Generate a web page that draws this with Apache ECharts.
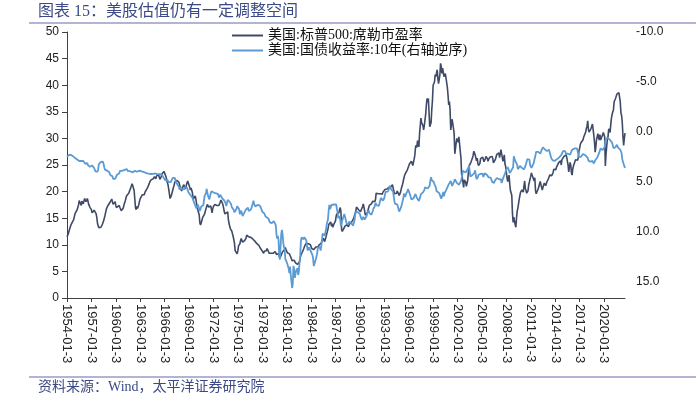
<!DOCTYPE html>
<html><head><meta charset="utf-8">
<script src="https://cdn.jsdelivr.net/npm/echarts@6/dist/echarts.min.js"></script>
<style>html,body{margin:0;padding:0;background:#fff}#c{width:696px;height:397px}</style>
</head><body><div id="c"></div>
<script>
const startYear = 1954;
const titleText = '图表 15：美股估值仍有一定调整空间';
const sourceText = '资料来源：Wind，太平洋证券研究院';
const seriesNames = ['美国:标普500:席勒市盈率', '美国:国债收益率:10年(右轴逆序)'];
const leftAxisRange = [0, 50, 5];
const rightAxisRange = [-10, 16.6, 5];

// Shiller PE, monthly from 1954-01 (one row per year)
const capeValues = [
11.5,11.8,12.1,12.6,13.0,13.2,13.8,13.6,14.0,14.0,14.8,15.4,
15.9,16.2,16.0,16.6,16.5,17.5,18.3,18.2,18.6,17.4,18.2,18.2,
17.7,17.8,18.7,18.7,18.1,17.8,18.7,18.4,17.6,17.4,17.0,17.3,
16.6,16.0,16.1,16.0,16.5,16.6,16.7,15.8,15.1,14.0,13.6,13.2,
13.3,13.1,13.3,13.5,13.8,14.0,14.5,15.0,15.5,16.1,16.7,17.0,
17.3,17.3,17.6,17.9,18.1,18.0,18.6,18.3,17.6,17.6,17.8,18.1,
17.4,17.0,16.9,17.0,17.0,17.4,17.0,16.9,16.4,16.2,16.6,16.9,
17.5,17.9,18.3,18.8,19.2,19.0,19.2,19.7,19.5,19.9,20.7,21.0,
21.5,21.1,21.0,20.2,18.6,17.0,16.6,17.2,16.8,16.5,17.6,18.2,
18.7,18.8,18.7,19.4,19.7,19.7,19.4,19.9,20.2,20.3,20.4,20.8,
21.1,21.4,21.8,22.0,22.2,22.1,22.5,22.4,22.6,22.8,22.8,22.4,
22.9,23.1,23.0,23.2,23.5,22.3,22.2,22.8,23.3,23.6,23.6,23.8,
23.9,23.6,22.8,23.0,21.7,21.3,21.0,19.6,18.7,18.4,19.3,19.4,
20.3,20.8,21.2,21.8,21.5,21.6,22.1,22.0,22.3,21.8,21.3,21.6,
21.0,20.1,19.9,20.9,21.3,21.4,21.1,20.5,21.2,21.6,22.0,21.6,
21.2,20.8,20.3,20.7,21.0,19.8,18.5,18.7,18.8,19.2,18.7,17.8,
17.0,16.7,16.8,15.6,14.1,13.7,13.9,14.6,15.1,15.2,15.0,15.8,
16.3,16.8,17.2,17.6,17.4,17.1,17.1,16.8,17.3,16.7,16.0,16.8,
17.2,17.4,17.6,17.7,17.6,17.4,17.3,17.5,17.4,17.4,18.0,18.4,
18.6,17.9,17.5,16.9,16.2,15.8,16.1,15.6,15.6,16.2,14.8,14.0,
13.5,13.0,13.1,12.6,12.1,11.6,11.0,10.3,8.9,8.7,8.9,8.3,
8.9,9.8,10.0,10.2,10.8,11.2,11.3,10.5,10.4,10.6,10.8,10.6,
11.2,11.8,11.8,11.7,11.5,11.5,11.6,11.4,11.6,11.3,11.1,11.4,
11.0,10.7,10.5,10.4,10.2,10.3,10.2,9.9,9.7,9.4,9.4,9.3,
8.8,8.5,8.4,8.8,9.1,9.0,8.9,9.3,9.3,8.8,8.4,8.5,
8.6,8.4,8.5,8.6,8.4,8.5,8.4,8.7,8.6,8.2,7.9,8.1,
8.3,8.4,7.5,7.6,8.1,8.4,8.7,8.9,9.0,9.1,9.5,9.1,
8.9,8.5,8.7,8.6,8.3,8.1,7.7,7.5,7.0,7.1,7.3,7.1,
6.9,6.6,6.4,6.5,6.3,6.2,6.3,6.8,7.5,8.1,8.4,8.6,
8.9,9.2,9.5,9.9,10.1,10.3,10.2,10.1,10.2,10.1,10.1,10.0,
9.8,9.3,9.3,9.3,9.1,9.1,8.9,9.6,9.7,9.7,9.6,9.6,
10.0,10.3,10.2,10.3,10.7,11.0,11.2,10.9,10.6,10.8,11.5,12.0,
12.3,13.0,13.8,13.9,13.9,14.3,13.5,14.0,13.3,13.6,14.0,13.8,
14.5,15.4,15.8,15.5,15.5,16.0,16.6,17.0,16.3,12.9,12.5,12.7,
13.0,13.3,13.5,13.4,13.3,13.8,13.7,13.4,13.7,14.0,13.7,13.9,
14.3,14.5,14.5,15.0,15.5,15.9,16.4,17.1,17.0,16.8,16.6,16.9,
16.3,16.2,16.6,16.5,17.2,17.7,17.6,16.4,15.6,15.3,15.6,16.0,
16.1,17.0,17.4,17.5,17.6,17.7,17.9,18.2,18.3,18.4,18.1,18.5,
19.7,19.7,19.4,19.6,19.8,19.5,19.6,19.4,19.6,19.5,19.9,20.2,
20.2,20.4,20.6,20.3,20.5,20.4,20.4,20.8,20.8,21.1,20.9,21.0,
21.3,21.0,20.1,19.6,19.8,19.6,19.7,20.1,19.9,19.8,19.3,19.6,
19.9,20.5,21.0,21.4,22.0,22.6,23.1,23.1,23.6,23.5,24.1,24.4,
24.8,25.2,25.3,25.5,25.7,25.9,24.9,25.1,26.1,26.8,28.3,28.7,
28.3,29.6,28.9,28.4,30.9,32.3,33.8,33.0,32.8,32.4,31.6,32.4,
32.3,34.5,36.2,37.5,36.8,37.5,37.6,32.2,32.2,33.0,35.4,37.1,
40.0,40.2,40.6,42.0,41.6,41.7,42.9,41.3,40.3,40.0,42.0,44.1,
43.5,42.2,43.2,43.2,41.6,41.9,42.2,42.5,41.9,39.6,38.1,36.3,
36.9,35.4,31.6,31.3,33.6,32.8,31.9,30.9,27.1,27.2,29.2,30.0,
30.0,29.3,30.3,29.0,27.6,26.4,23.3,22.7,22.6,20.8,22.2,22.3,
21.8,21.0,21.3,22.1,23.6,24.8,24.8,25.1,25.6,25.8,26.3,26.8,
27.6,27.9,26.9,27.1,25.8,26.3,25.3,24.9,25.2,25.3,26.2,26.5,
26.4,26.5,26.3,25.6,25.8,26.2,26.6,26.5,26.2,25.7,26.1,26.3,
26.5,26.3,26.4,26.6,26.2,25.4,25.4,25.7,26.1,26.6,27.0,27.2,
27.2,27.3,26.4,27.1,27.9,27.7,27.6,25.7,26.3,26.9,25.2,24.7,
23.6,22.6,21.9,22.6,23.1,21.4,20.2,20.4,19.3,15.9,14.2,15.2,
15.2,13.8,13.3,15.0,16.3,16.9,17.1,18.6,19.3,19.9,19.9,20.3,
20.3,19.9,21.1,22.0,20.6,20.2,19.7,20.0,20.2,21.3,21.8,22.1,
22.9,23.5,23.1,23.3,23.0,22.0,22.6,20.2,19.6,19.9,20.2,20.2,
20.9,21.5,21.9,21.8,20.8,20.3,20.8,21.1,21.6,21.7,21.1,21.2,
21.9,22.2,22.4,22.5,23.1,22.8,23.1,23.0,23.1,23.6,24.2,24.4,
24.3,24.1,24.6,24.4,24.8,25.4,25.4,25.4,25.8,25.0,26.0,26.2,
26.0,26.6,26.7,26.7,26.9,26.5,26.3,25.0,23.7,24.6,25.5,25.0,
23.5,23.1,24.3,24.8,25.1,25.1,26.0,26.3,26.1,25.9,26.3,27.6,
28.1,28.8,29.2,29.1,29.4,29.7,30.2,30.1,30.5,31.2,31.9,32.3,
33.3,31.7,31.2,31.0,31.4,31.9,32.1,32.7,32.6,30.6,29.3,27.4,
28.4,29.8,30.0,30.9,30.1,29.7,30.7,29.7,29.9,29.7,30.7,31.1,
31.2,30.3,24.8,27.0,28.5,29.8,30.4,31.8,31.5,31.1,32.6,33.8,
34.5,35.0,35.4,36.9,37.0,37.5,37.9,38.3,38.0,38.1,38.6,38.3,
36.9,34.8,34.3,32.9,30.4,28.7,30.0,31.0
];

// US 10Y Treasury yield (%), monthly from 1954-01
const yieldValues = [
2.48,2.47,2.37,2.29,2.37,2.38,2.30,2.36,2.38,2.43,2.48,2.51,
2.61,2.65,2.68,2.75,2.76,2.78,2.90,2.97,2.97,2.88,2.89,2.96,
2.90,2.84,2.96,3.18,3.07,3.00,3.11,3.33,3.38,3.34,3.49,3.59,
3.46,3.34,3.41,3.48,3.60,3.80,3.93,3.93,3.92,3.97,3.72,3.21,
3.09,3.05,2.98,2.88,2.92,2.97,3.20,3.54,3.76,3.80,3.74,3.86,
4.02,3.96,3.99,4.12,4.31,4.34,4.40,4.43,4.68,4.53,4.53,4.69,
4.72,4.49,4.25,4.28,4.35,4.15,3.90,3.80,3.80,3.89,3.93,3.84,
3.84,3.78,3.74,3.78,3.71,3.88,3.92,4.04,3.98,3.92,3.94,4.06,
4.08,4.04,3.93,3.84,3.87,3.91,4.01,3.98,3.98,3.93,3.92,3.86,
3.83,3.92,3.93,3.97,3.93,3.99,4.02,4.00,4.08,4.11,4.12,4.13,
4.17,4.15,4.22,4.23,4.20,4.17,4.19,4.19,4.20,4.19,4.15,4.18,
4.19,4.21,4.21,4.20,4.21,4.21,4.20,4.25,4.29,4.35,4.45,4.62,
4.61,4.83,4.87,4.75,4.78,4.81,5.02,5.22,5.18,5.01,5.16,4.84,
4.58,4.63,4.54,4.59,4.85,5.02,5.16,5.28,5.30,5.48,5.75,5.70,
5.53,5.56,5.74,5.64,5.87,5.72,5.50,5.42,5.46,5.58,5.70,6.03,
6.04,6.19,6.30,6.17,6.32,6.57,6.72,6.69,7.16,7.10,7.14,7.65,
7.79,7.24,7.07,7.39,7.91,7.84,7.46,7.53,7.39,7.33,6.84,6.39,
6.24,6.11,5.70,5.83,6.39,6.52,6.73,6.58,6.14,5.93,5.81,5.93,
5.95,6.08,6.07,6.19,6.13,6.11,6.11,6.21,6.55,6.48,6.28,6.36,
6.46,6.64,6.71,6.67,6.85,6.90,7.13,7.40,7.09,6.79,6.73,6.74,
6.99,6.96,7.21,7.51,7.58,7.54,7.81,8.04,8.04,7.90,7.68,7.43,
7.50,7.39,7.73,8.23,8.06,7.86,8.06,8.40,8.43,8.14,8.05,8.00,
7.74,7.79,7.73,7.56,7.90,7.86,7.83,7.77,7.59,7.41,7.29,6.87,
7.21,7.39,7.46,7.37,7.46,7.28,7.33,7.40,7.34,7.52,7.58,7.69,
7.96,8.03,8.04,8.15,8.35,8.46,8.64,8.41,8.42,8.64,8.81,9.01,
9.10,9.10,9.12,9.18,9.25,8.91,8.95,9.03,9.33,10.30,10.65,10.39,
10.80,12.41,12.75,11.47,10.18,9.78,10.25,11.10,11.51,11.75,12.68,12.84,
12.57,13.19,13.12,13.68,14.10,13.47,14.28,14.94,15.60,15.15,13.39,13.72,
14.59,14.43,13.86,13.87,13.62,14.30,13.95,13.06,12.34,10.91,10.55,10.54,
10.46,10.72,10.51,10.40,10.38,10.85,11.38,11.85,11.65,11.54,11.69,11.83,
11.67,11.84,12.32,12.63,13.41,13.56,13.36,12.72,12.52,12.16,11.57,11.50,
11.38,11.51,11.86,11.43,10.85,10.16,10.31,10.33,10.37,10.24,9.78,9.26,
9.19,8.70,7.78,7.30,7.71,7.80,7.30,7.17,7.45,7.43,7.25,7.11,
7.08,7.25,7.25,8.02,8.61,8.40,8.45,8.76,9.42,9.52,8.86,8.99,
8.67,8.21,8.37,8.72,9.09,8.92,9.06,9.26,8.98,8.80,8.96,9.11,
9.09,9.17,9.36,9.18,8.86,8.28,8.02,8.11,8.19,8.01,7.87,7.84,
8.21,8.47,8.59,8.79,8.76,8.48,8.47,8.75,8.89,8.72,8.39,8.08,
8.09,7.85,8.11,8.04,8.07,8.28,8.27,7.90,7.65,7.53,7.42,7.09,
7.03,7.34,7.54,7.48,7.39,7.26,6.84,6.59,6.42,6.59,6.87,6.77,
6.60,6.26,5.98,5.97,6.04,5.96,5.81,5.68,5.36,5.33,5.72,5.77,
5.75,5.97,6.48,6.97,7.18,7.10,7.30,7.24,7.46,7.74,7.96,7.81,
7.78,7.47,7.20,7.06,6.63,6.17,6.28,6.49,6.20,6.04,5.93,5.71,
5.65,5.81,6.27,6.51,6.74,6.91,6.87,6.64,6.83,6.53,6.20,6.30,
6.58,6.42,6.69,6.89,6.71,6.49,6.22,6.30,6.21,6.03,5.88,5.81,
5.54,5.57,5.65,5.64,5.65,5.50,5.46,5.34,4.81,4.53,4.83,4.65,
4.72,5.00,5.23,5.18,5.54,5.90,5.79,5.94,5.92,6.11,6.03,6.28,
6.66,6.52,6.26,5.99,6.44,6.10,6.05,5.83,5.80,5.74,5.72,5.24,
5.16,5.10,4.89,5.14,5.39,5.28,5.24,4.97,4.73,4.57,4.65,5.09,
5.04,4.91,5.28,5.21,5.16,4.93,4.65,4.26,3.87,3.94,4.05,4.03,
4.05,3.90,3.81,3.96,3.57,3.33,3.98,4.45,4.27,4.29,4.30,4.27,
4.15,4.08,3.83,4.35,4.72,4.73,4.50,4.28,4.13,4.10,4.19,4.23,
4.22,4.17,4.50,4.34,4.14,4.00,4.18,4.26,4.20,4.46,4.54,4.47,
4.42,4.57,4.72,4.99,5.11,5.11,5.09,4.88,4.72,4.73,4.60,4.56,
4.76,4.72,4.56,4.69,4.75,5.10,5.00,4.67,4.52,4.53,4.15,4.10,
3.74,3.74,3.51,3.68,3.88,4.10,4.01,3.89,3.69,3.81,3.53,2.42,
2.52,2.87,2.82,2.93,3.29,3.72,3.56,3.59,3.40,3.39,3.40,3.59,
3.73,3.69,3.73,3.85,3.42,3.20,3.01,2.70,2.65,2.54,2.76,3.29,
3.39,3.58,3.41,3.46,3.17,3.00,3.00,2.30,1.98,2.15,2.01,1.98,
1.97,1.97,2.17,2.05,1.80,1.62,1.53,1.68,1.72,1.75,1.65,1.72,
1.91,1.98,1.96,1.76,1.93,2.30,2.58,2.74,2.81,2.62,2.72,2.90,
2.86,2.71,2.72,2.71,2.56,2.60,2.54,2.42,2.53,2.30,2.33,2.21,
1.88,1.98,2.04,1.94,2.20,2.36,2.32,2.17,2.17,2.07,2.26,2.24,
2.09,1.78,1.89,1.81,1.81,1.64,1.50,1.56,1.63,1.76,2.14,2.49,
2.43,2.42,2.48,2.30,2.30,2.19,2.32,2.21,2.20,2.36,2.35,2.40,
2.58,2.86,2.84,2.87,2.98,2.91,2.89,2.89,3.00,3.15,3.12,2.83,
2.71,2.68,2.57,2.53,2.40,2.07,2.06,1.63,1.70,1.71,1.81,1.86,
1.76,1.50,0.87,0.66,0.67,0.73,0.62,0.65,0.68,0.79,0.87,0.93,
1.08,1.26,1.61,1.64,1.62,1.52,1.32,1.28,1.37,1.58,1.56,1.47,
1.76,1.93,2.13,2.75,2.90,3.20,3.00,3.60
];

// month-end date labels
const categories = [];
for (let i = 0; i < capeValues.length; i++) {
  const y = startYear + Math.floor(i / 12), m = i % 12 + 1;
  const d = new Date(Date.UTC(y, m, 0)).getUTCDate();
  categories.push(y + '-' + String(m).padStart(2, '0') + '-' + d);
}

const darkColor = '#3f4a66';
const blueColor = '#5b9bd5';
const axisColor = '#404040';
const labelFont = 'Liberation Sans, Arial, sans-serif';
const cjkSerif = 'Liberation Serif, Noto Sans CJK SC, serif';

const chart = echarts.init(document.getElementById('c'), null, {renderer: 'canvas'});
chart.setOption({
  animation: false,
  backgroundColor: '#fff',
  title: [
    {text: titleText, left: 38, top: 4, padding: 0,
     textStyle: {fontFamily: cjkSerif, fontSize: 16, fontWeight: 'normal', color: '#3b4a86'}},
    {text: sourceText, left: 38, top: 380, padding: 0,
     textStyle: {fontFamily: cjkSerif, fontSize: 14, fontWeight: 'normal', color: '#3b4a86'}}
  ],
  graphic: [
    {type: 'line', shape: {x1: 29, y1: 23, x2: 696, y2: 23}, style: {stroke: '#9a9ac4', lineWidth: 1.5}},
    {type: 'line', shape: {x1: 29, y1: 377, x2: 696, y2: 377}, style: {stroke: '#9a9ac4', lineWidth: 1.5}}
  ],
  legend: {
    orient: 'vertical', left: 232, top: 28, padding: 0,
    itemWidth: 31, itemHeight: 2, itemGap: 0, icon: 'rect',
    textStyle: {fontFamily: cjkSerif, fontSize: 14, color: '#111', lineHeight: 15},
    data: seriesNames
  },
  grid: {left: 67, right: 71, top: 32, bottom: 99},
  xAxis: {
    type: 'category', data: categories, boundaryGap: false,
    axisLine: {lineStyle: {color: axisColor, width: 1}},
    axisTick: {interval: 35, length: 4, lineStyle: {color: axisColor}},
    axisLabel: {interval: 35, rotate: -90, fontSize: 13, color: '#222', fontFamily: labelFont, margin: 6,
      width: 62, overflow: 'truncate', ellipsis: ''}
  },
  yAxis: [
    {type: 'value', min: leftAxisRange[0], max: leftAxisRange[1], interval: leftAxisRange[2],
     axisLine: {show: true, lineStyle: {color: axisColor}},
     axisTick: {show: true, length: 5, lineStyle: {color: axisColor}},
     splitLine: {show: false},
     axisLabel: {fontSize: 12, color: '#222', fontFamily: labelFont, margin: 8}},
    {type: 'value', position: 'right', inverse: true,
     min: rightAxisRange[0], max: rightAxisRange[1], interval: rightAxisRange[2],
     axisLine: {show: false}, axisTick: {show: false}, splitLine: {show: false},
     axisLabel: {fontSize: 12, color: '#222', fontFamily: labelFont, margin: 11, showMaxLabel: false,
       formatter: v => (Math.abs(v % 5) < 1e-6 ? v.toFixed(1) : '')}}
  ],
  series: [
    {name: seriesNames[0], type: 'line', yAxisIndex: 0, data: capeValues,
     symbol: 'none', showSymbol: false, lineStyle: {width: 1.6, color: darkColor}, itemStyle: {color: darkColor}},
    {name: seriesNames[1], type: 'line', yAxisIndex: 1, data: yieldValues,
     symbol: 'none', showSymbol: false, lineStyle: {width: 1.8, color: blueColor}, itemStyle: {color: blueColor}}
  ]
});
</script>
</body></html>
